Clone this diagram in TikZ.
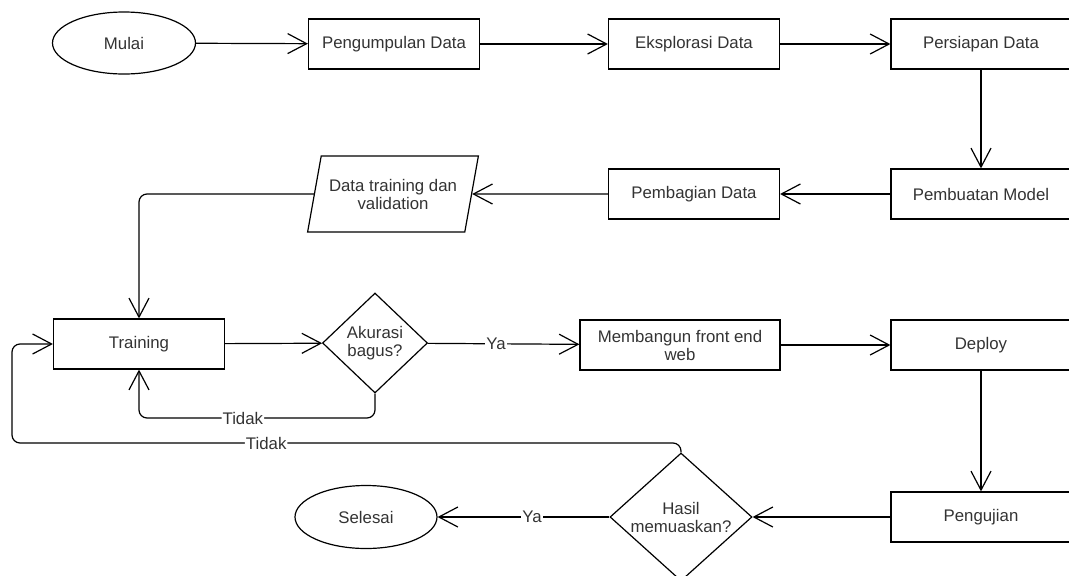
\documentclass[tikz,border=0pt]{standalone}
\usepackage{fontspec}
\setmainfont{Liberation Sans}
\usetikzlibrary{shapes.geometric,arrows.meta}

\tikzset{
  base/.style={draw, line width=1.2pt, text=black!80, align=center,
    font=\fontsize{16.8}{18}\selectfont, inner sep=2pt},
  procbox/.style={base, rectangle, minimum width=171pt, minimum height=50pt},
  termnode/.style={base, ellipse, minimum width=143pt, minimum height=62pt},
  decide/.style={base, diamond, inner sep=0pt},
  iobox/.style={base, trapezium, trapezium left angle=70, trapezium right angle=110,
    trapezium stretches=true, minimum width=171pt, minimum height=76pt},
  flow/.style={line width=1.2pt, -{Straight Barb[length=19pt,width=20pt,line width=1.2pt]}},
  lbl/.style={fill=white, inner sep=1pt, text=black!80, font=\fontsize{16.8}{18}\selectfont}
}

\begin{document}
\begin{tikzpicture}[x=1pt,y=-1pt]
    \clip (0,0) rectangle (1069,576);

    % top row
    \node[termnode] (mulai) at (124,43) {Mulai};
    \node[procbox] (kumpul) at (394,44) {Pengumpulan Data};
    \node[procbox] (eksplor) at (694,44) {Eksplorasi Data};
    \node[procbox, minimum width=180pt] (siap) at (981,44) {Persiapan Data};

    % second row
    \node[procbox, minimum width=180pt] (model) at (981,194) {Pembuatan Model};
    \node[procbox] (bagi) at (694,194) {Pembagian Data};
    \node[iobox] (datatv) at (393,194) {Data training dan\\validation};

    % third row
    \node[procbox] (train) at (139,344) {Training};
    \node[decide, minimum width=105pt, minimum height=100pt] (akurasi) at (375,343) {Akurasi\\bagus?};
    \node[procbox, minimum width=200pt] (bangun) at (680,345) {Membangun front end\\web};
    \node[procbox, minimum width=180pt] (deploy) at (981,345) {Deploy};

    % bottom row
    \node[procbox, minimum width=180pt] (uji) at (981,517) {Pengujian};
    \node[decide, minimum width=142pt, minimum height=128pt, aspect=1.1] (hasil) at (681,517) {Hasil\\memuaskan?};
    \node[termnode, minimum width=142pt, minimum height=63pt] (selesai) at (366,517) {Selesai};

    \coordinate (backT) at (139,418);
    \coordinate (backL) at (12,443);

    \draw [flow] (mulai) -- (kumpul);
    \draw [flow] (kumpul) -- (eksplor);
    \draw [flow] (eksplor) -- (siap);
    \draw [flow] (siap) -- (model);
    \draw [flow] (model) -- (bagi);
    \draw [flow] (bagi) -- (datatv.east);
    \draw [flow, rounded corners=8pt] (datatv.west) -| (train.north);

    \draw [flow] (train) -- (akurasi);
    \draw [flow] (akurasi) -- node [lbl, pos=0.45] {Ya} (bangun);
    \draw [flow] (bangun) -- (deploy);
    \draw [flow] (deploy) -- (uji);
    \draw [flow] (uji) -- (hasil);
    \draw [flow] (hasil) -- node [lbl, pos=0.45] {Ya} (selesai);

    % loops back to training
    \draw [flow, rounded corners=8pt] (akurasi.south)
        |- node [lbl, pos=0.78] {Tidak} (backT) -- (train.south);
    \draw [flow, rounded corners=8pt] (hasil.north)
        |- node [lbl, pos=0.81] {Tidak} (backL) |- (train.west);
\end{tikzpicture}
\end{document}
